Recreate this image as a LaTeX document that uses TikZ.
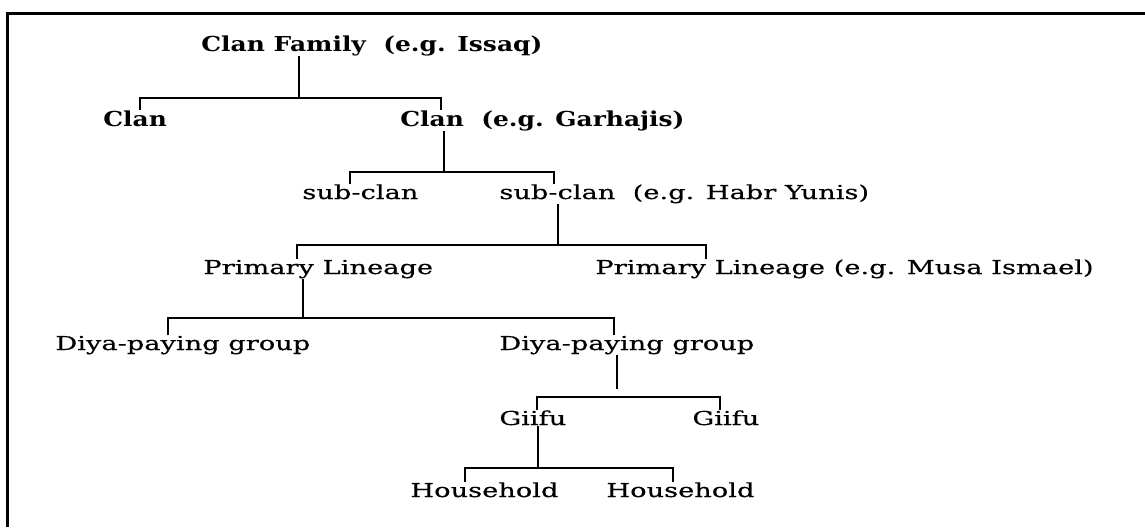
\documentclass[tikz,border=0pt]{standalone}
\usepackage{fontspec}
\setmainfont{DejaVu Serif}[FakeStretch=1.42,FakeBold=0.4]
\newfontfamily\boldfam{DejaVu Serif}[FakeStretch=1.21]
\begin{document}
\begin{tikzpicture}[x=0.5pt,y=-0.5pt,
  lbl/.style={anchor=base west,inner sep=0pt,font=\fontsize{9.6}{11}\selectfont},
  blbl/.style={anchor=base west,inner sep=0pt,font=\fontsize{10.3}{12}\selectfont\boldfam\bfseries},
  link/.style={line width=1.1pt,line join=miter},
  frame/.style={line width=1.3pt}]
\useasboundingbox (0,0) rectangle (1145,527);
\coordinate (ftr) at (1145,13.5);
\coordinate (fc) at (7.5,13.5);
\coordinate (fbl) at (7.5,527);
\draw[frame] (ftr) -- (fc) -- (fbl);

\node[blbl] (cf) at (201,51) {Clan Family~~(e.g. Issaq)};
\node[blbl] (clanL) at (103,126) {Clan};
\node[blbl] (clanR) at (400,126) {Clan~~(e.g. Garhajis)};
\node[lbl] (subL) at (302,199) {sub-clan};
\node[lbl] (subR) at (499,199) {sub-clan~~(e.g. Habr Yunis)};
\node[lbl] (plL) at (203,274) {Primary Lineage};
\node[lbl] (plR) at (595,274) {Primary Lineage (e.g. Musa Ismael)};
\node[lbl] (diyaL) at (55,350) {Diya-paying group};
\node[lbl] (diyaR) at (499,350) {Diya-paying group};
\node[lbl] (giifuL) at (499,425) {Giifu};
\node[lbl] (giifuR) at (692,425) {Giifu};
\node[lbl] (hhL) at (410,497) {Household};
\node[lbl] (hhR) at (606,497) {Household};

% level 1
\coordinate (j1) at (299,98);
\draw[link] (cf.south -| j1) -- (j1);
\draw[link] (clanL.north -| 140,0) |- (j1) -| (clanR.north -| 441,0);
% level 2
\coordinate (j2) at (444,172);
\draw[link] (clanR.south -| j2) -- (j2);
\draw[link] (subL.north -| 350,0) |- (j2) -| (subR.north -| 554,0);
% level 3
\coordinate (j3) at (558,245);
\draw[link] (subR.south -| j3) -- (j3);
\draw[link] (plL.north -| 297,0) |- (j3) -| (plR.north -| 706,0);
% level 4
\coordinate (j4) at (303,318);
\draw[link] (plL.south -| j4) -- (j4);
\draw[link] (diyaL.north -| 168,0) |- (j4) -| (diyaR.north -| 614,0);
% level 5
\coordinate (d5) at (617,389);
\coordinate (j5) at (617,397);
\draw[link] (diyaR.south -| d5) -- (d5);
\draw[link] (giifuL.north -| 537,0) |- (j5) -| (giifuR.north -| 720,0);
% level 6
\coordinate (j6) at (538,468);
\draw[link] (giifuL.south -| j6) -- (j6);
\draw[link] (hhL.north -| 465,0) |- (j6) -| (hhR.north -| 673,0);
\end{tikzpicture}
\end{document}
